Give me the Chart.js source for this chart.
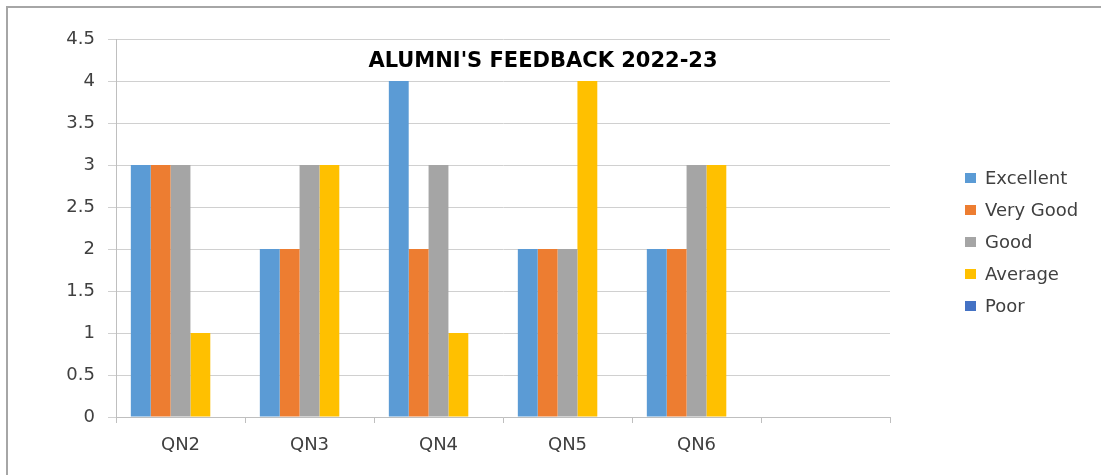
<!DOCTYPE html>
<html>
<head>
<meta charset="utf-8">
<script src="https://cdn.jsdelivr.net/npm/chart.js@4.4.0/dist/chart.umd.min.js"></script>
<style>
  html, body { margin: 0; padding: 0; background: #fff; overflow: hidden; }
  #wrap { position: relative; width: 1101px; height: 475px; }
  #frame { position: absolute; left: 6px; top: 6px; width: 1200px; height: 600px;
           border-left: 2px solid #a6a6a6; border-top: 2px solid #a6a6a6; box-sizing: border-box; }
  #chart { position: absolute; left: 0; top: 0; }
  #legend { position: absolute; left: 965px; top: 166px; font-family: "DejaVu Sans", sans-serif;
            font-size: 18px; color: #404040; }
  #legend div { height: 32px; line-height: 24px; white-space: nowrap; }
  #legend span { display: inline-block; width: 11px; height: 10px; margin-right: 9px; vertical-align: 1px; }
</style>
</head>
<body>
<div id="wrap">
  <div id="frame"></div>
  <canvas id="chart" width="1101" height="475"></canvas>
  <div id="legend"></div>
</div>
<script>
// values
const categories = ["QN2", "QN3", "QN4", "QN5", "QN6", ""];
const excellent = [3, 2, 4, 2, 2];
const veryGood = [3, 2, 2, 2, 2];
const good = [3, 3, 3, 2, 3];
const average = [1, 3, 1, 4, 3];
const poor = [0, 0, 0, 0, 0];
const yTicks = [0, 0.5, 1, 1.5, 2, 2.5, 3, 3.5, 4, 4.5];

const seriesNames = ["Excellent", "Very Good", "Good", "Average", "Poor"];
const seriesColors = ["#5b9bd5", "#ed7d31", "#a5a5a5", "#ffc000", "#4472c4"];
const seriesData = [excellent, veryGood, good, average, poor];

const titlePlugin = {
  id: "insideTitle",
  afterDraw(chart) {
    const ctx = chart.ctx;
    ctx.save();
    ctx.font = "bold 21px 'DejaVu Sans', sans-serif";
    ctx.fillStyle = "#000";
    ctx.textAlign = "center";
    ctx.textBaseline = "middle";
    ctx.fillText("ALUMNI'S FEEDBACK 2022-23", 543, 62);
    ctx.restore();
  }
};

const chart = new Chart(document.getElementById("chart"), {
  type: "bar",
  data: {
    labels: categories,
    datasets: seriesData.map((d, i) => ({
      label: seriesNames[i],
      data: d,
      backgroundColor: seriesColors[i],
      borderWidth: 0,
      categoryPercentage: 0.77,
      barPercentage: 1,
    })),
  },
  options: {
    responsive: false,
    animation: false,
    devicePixelRatio: 1,
    layout: { padding: { left: 0, top: 39, right: 211, bottom: 0 } },
    plugins: {
      legend: { display: false },
      tooltip: { enabled: false },
    },
    scales: {
      x: {
        afterFit: (s) => { s.height = 58; },
        grid: { drawOnChartArea: false, color: "#bfbfbf", tickLength: 6, offset: true },
        border: { color: "#bfbfbf", width: 1 },
        ticks: { color: "#404040", padding: 12, font: { family: "DejaVu Sans", size: 18 } },
      },
      y: {
        min: 0,
        max: 4.5,
        afterFit: (s) => { s.width = 116; },
        afterBuildTicks: (s) => { s.ticks = yTicks.map(v => ({ value: v })); },
        grid: { color: "#d0d0d0", tickLength: 8 },
        border: { color: "#bfbfbf", width: 1 },
        ticks: {
          color: "#404040",
          padding: 13,
          font: { family: "DejaVu Sans", size: 18 },
          callback: (v) => String(v),
        },
      },
    },
  },
  plugins: [titlePlugin],
});

const legend = document.getElementById("legend");
seriesNames.forEach((name, i) => {
  const row = document.createElement("div");
  const box = document.createElement("span");
  box.style.background = seriesColors[i];
  row.appendChild(box);
  row.appendChild(document.createTextNode(name));
  legend.appendChild(row);
});
</script>
</body>
</html>
